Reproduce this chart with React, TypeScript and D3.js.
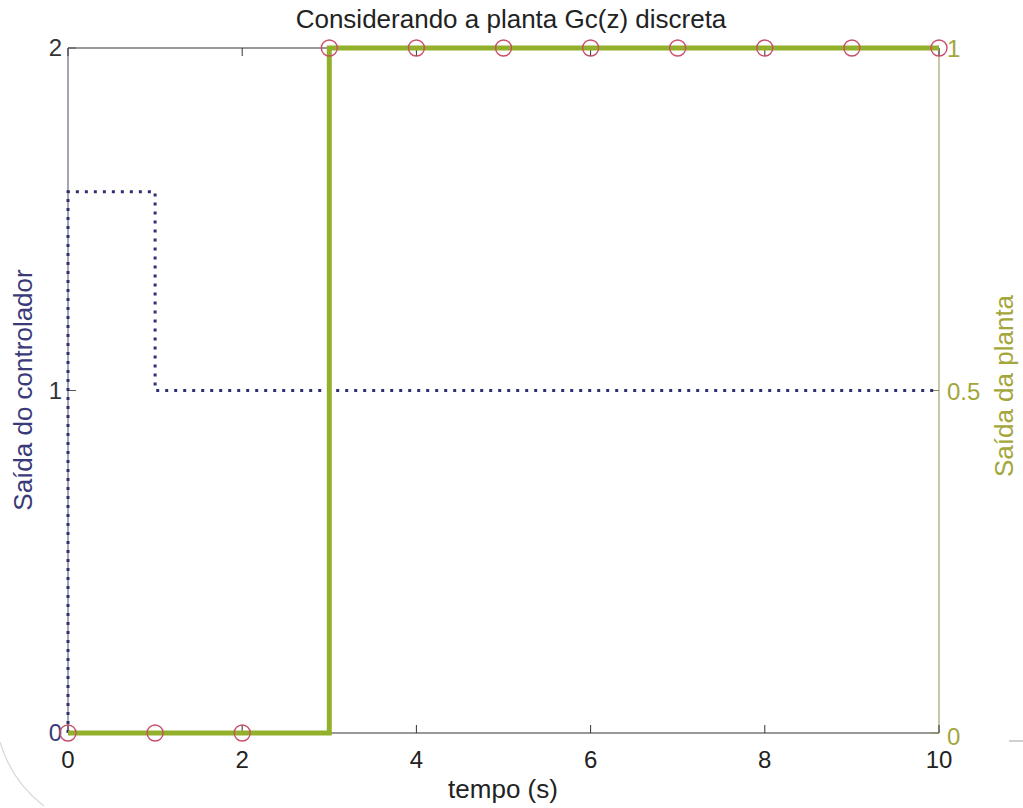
import React from "react";
import * as d3 from "d3";

// Discrete-time samples k = 0..10 (seconds)
const sampleTimes = [0, 1, 2, 3, 4, 5, 6, 7, 8, 9, 10];
// Plant output y(k)
const plantOutput = [0, 0, 0, 1, 1, 1, 1, 1, 1, 1, 1];
// Controller output u(k), starting from rest at zero
const controllerTimes = [0, 0, 1, 10];
const controllerValues = [0, 1.58, 1, 1];

const xTicks = [0, 2, 4, 6, 8, 10];
const leftTicks = [0, 1, 2];
const rightTicks = [0, 0.5, 1];

const W = 1023;
const H = 808;
const M = { left: 68, right: 939, top: 48, bottom: 733 };

const FONT = "'Liberation Sans', Arial, sans-serif";
const NAVY = "#3a3a78";
const OLIVE = "#a3a63a";
const GREEN = "#93b02a";
const RED = "#c8506a";
const TICK_FS = 24;
const LABEL_FS = 26;

export default function App() {
  const x = d3.scaleLinear().domain([0, 10]).range([M.left, M.right]);
  const yL = d3.scaleLinear().domain([0, 2]).range([M.bottom, M.top]);
  const yR = d3.scaleLinear().domain([0, 1]).range([M.bottom, M.top]);

  const ctrlLine = d3
    .line<number>()
    .x((_, i) => x(controllerTimes[i]))
    .y((v) => yL(v))
    .curve(d3.curveStepAfter);

  const plantLine = d3
    .line<number>()
    .x((_, i) => x(sampleTimes[i]))
    .y((v) => yR(v))
    .curve(d3.curveStepAfter);

  const tickLen = 8;

  return (
    <div style={{ position: "fixed", left: 0, top: 0 }}>
      <svg width={W} height={H} style={{ display: "block", background: "#fff" }}>
        {/* scan edge */}
        <path d="M0,742 Q12,782 44,806" fill="none" stroke="#d8d8d8" strokeWidth={1.2} />
        <path d="M1009,741 L1023,741" stroke="#c0c0c0" strokeWidth={1.5} />

        {/* title */}
        <text x={511} y={28} textAnchor="middle" fontFamily={FONT} fontSize={LABEL_FS} fill="#222">
          Considerando a planta Gc(z) discreta
        </text>

        {/* box: top and bottom axes */}
        <line x1={M.left} x2={M.right} y1={M.top} y2={M.top} stroke="#333" strokeWidth={1.2} />
        <line x1={M.left} x2={M.right} y1={M.bottom} y2={M.bottom} stroke="#333" strokeWidth={1.2} />
        <line x1={M.left} x2={M.left} y1={M.top} y2={M.bottom} stroke="#6a6a8a" strokeWidth={1.2} />
        <line x1={M.right} x2={M.right} y1={M.top} y2={M.bottom} stroke="#a0a070" strokeWidth={1.2} />

        {/* x ticks */}
        {xTicks.map((t) => (
          <g key={"x" + t}>
            <line x1={x(t)} x2={x(t)} y1={M.bottom} y2={M.bottom - tickLen} stroke="#333" />
            <line x1={x(t)} x2={x(t)} y1={M.top} y2={M.top + tickLen} stroke="#333" />
            <text x={x(t)} y={M.bottom + 35} textAnchor="middle" fontFamily={FONT} fontSize={TICK_FS} fill="#222">
              {t}
            </text>
          </g>
        ))}

        {/* left ticks */}
        {leftTicks.map((t) => (
          <g key={"l" + t}>
            <line x1={M.left} x2={M.left + tickLen} y1={yL(t)} y2={yL(t)} stroke="#555" />
            <text x={M.left - 6} y={yL(t) + 8} textAnchor="end" fontFamily={FONT} fontSize={TICK_FS} fill={t === 0 ? NAVY : "#333"}>
              {t}
            </text>
          </g>
        ))}

        {/* right ticks */}
        {rightTicks.map((t) => (
          <g key={"r" + t}>
            <line x1={M.right} x2={M.right - tickLen} y1={yR(t)} y2={yR(t)} stroke="#8a8a50" />
            <text x={M.right + 8} y={yR(t) + 9 + (t === 0 ? 3 : 0)} textAnchor="start" fontFamily={FONT} fontSize={TICK_FS} fill={OLIVE}>
              {t}
            </text>
          </g>
        ))}

        {/* axis labels */}
        <text x={503} y={798} textAnchor="middle" fontFamily={FONT} fontSize={LABEL_FS} fill="#222">
          tempo (s)
        </text>
        <text
          transform={`translate(32,390) rotate(-90)`}
          textAnchor="middle"
          fontFamily={FONT}
          fontSize={LABEL_FS}
          fill={NAVY}
        >
          Saída do controlador
        </text>
        <text
          transform={`translate(1013,386) rotate(-90)`}
          textAnchor="middle"
          fontFamily={FONT}
          fontSize={LABEL_FS}
          fill={OLIVE}
        >
          Saída da planta
        </text>

        {/* controller output (dotted) */}
        <path
          d={ctrlLine(controllerValues) || ""}
          fill="none"
          stroke="#2e2e72"
          strokeWidth={3}
          strokeDasharray="3,6"
        />

        {/* plant output (thick stairs) */}
        <path d={plantLine(plantOutput) || ""} fill="none" stroke={GREEN} strokeWidth={5} />

        {/* sample markers */}
        {plantOutput.map((v, i) => (
          <circle key={"c" + i} cx={x(sampleTimes[i])} cy={yR(v)} r={8} fill="none" stroke={RED} strokeWidth={1.4} />
        ))}
      </svg>
    </div>
  );
}
